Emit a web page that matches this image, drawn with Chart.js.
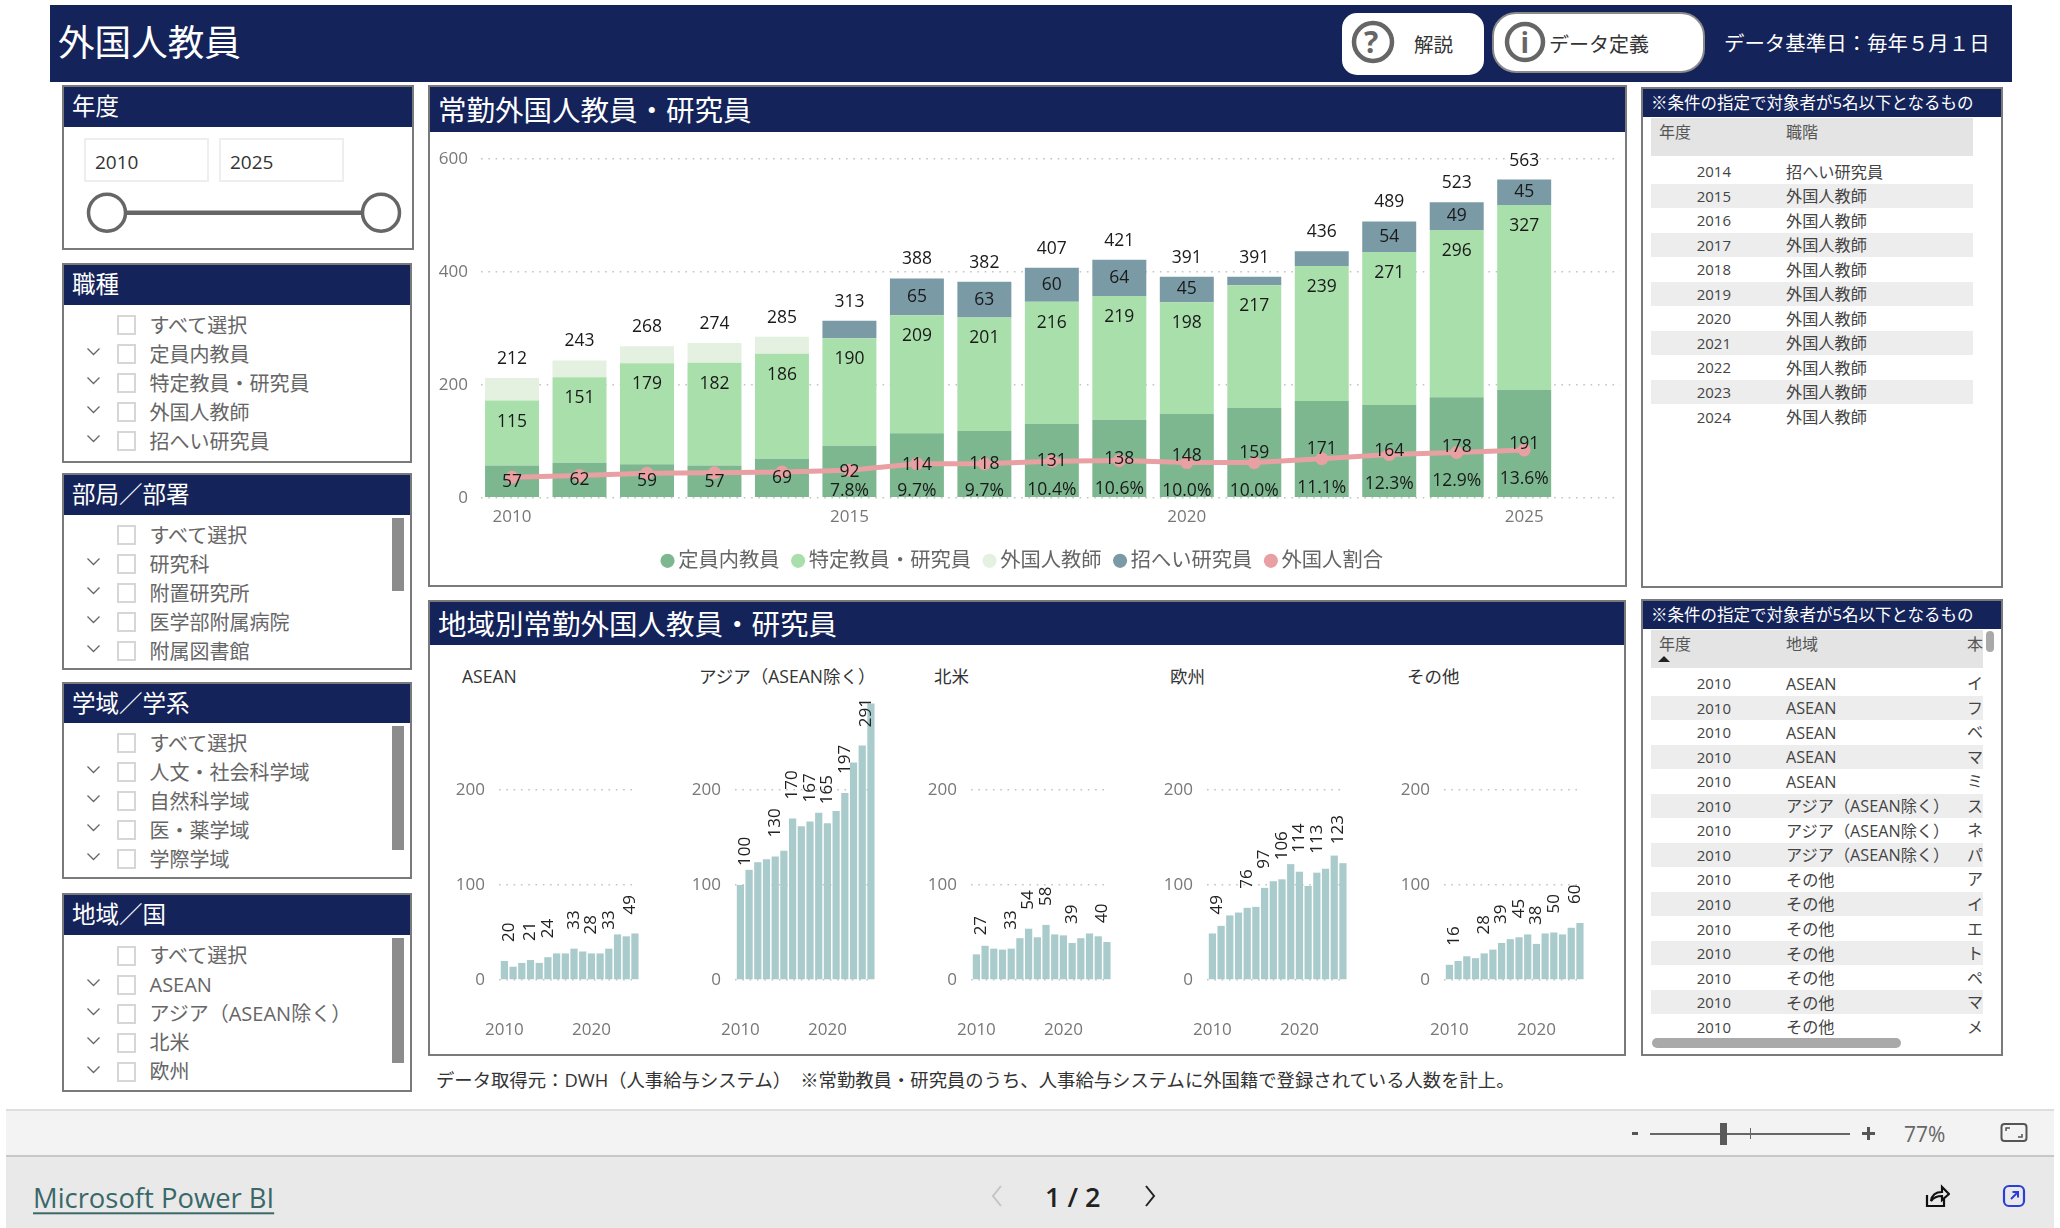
<!DOCTYPE html>
<html lang="ja">
<head>
<meta charset="utf-8">
<title>外国人教員</title>
<script src="https://cdn.jsdelivr.net/npm/chart.js@4/dist/chart.umd.js"></script>
<style>
html,body{margin:0;padding:0;background:#fff;width:2060px;height:1228px;overflow:hidden;font-family:'Open Sans','Noto Sans CJK JP',sans-serif}
#root{position:relative;width:2060px;height:1228px;overflow:hidden}
.a{position:absolute;box-sizing:border-box}
.t{position:absolute;white-space:nowrap;line-height:1;transform:translateY(-50%)}
canvas{position:absolute}
</style>
</head>
<body>
<div id="root"></div>
<script>
// ---- data ----
const years = [2010,2011,2012,2013,2014,2015,2016,2017,2018,2019,2020,2021,2022,2023,2024,2025];
const regularStaff = [57,62,59,57,69,92,114,118,131,138,148,159,171,164,178,191];
const specialStaff = [115,151,179,182,186,190,209,201,216,219,198,217,239,271,296,327];
const foreignTeachers = [40,30,30,35,30,0,0,0,0,0,0,0,0,0,0,0];
const invitedResearchers = [0,0,0,0,0,31,65,63,60,64,45,15,26,54,49,45];
const invitedLabels = [null,null,null,null,null,null,65,63,60,64,45,null,null,54,49,45];
const totals = [212,243,268,274,285,313,388,382,407,421,391,391,436,489,523,563];
const foreignRatio = [5.8,6.3,7.0,7.1,7.3,7.8,9.7,9.7,10.4,10.6,10.0,10.0,11.1,12.3,12.9,13.6];
const ratioLabels = [null,null,null,null,null,'7.8%','9.7%','9.7%','10.4%','10.6%','10.0%','10.0%','11.1%','12.3%','12.9%','13.6%'];
const seriesNames = ['定員内教員','特定教員・研究員','外国人教師','招へい研究員','外国人割合'];

const regionNames = ['ASEAN','アジア（ASEAN除く）','北米','欧州','その他'];
const regionTicks = [0,100,200];
const aseanValues = [20,14,18,21,18,24,28,28,33,30,28,28,33,48,46,49];
const asiaValues = [100,116,124,127,130,136,170,162,167,176,165,178,197,229,247,291];
const northAmericaValues = [27,36,33,32,33,44,54,45,58,48,47,39,44,49,46,40];
const europeValues = [49,57,68,71,76,77,97,104,106,122,114,99,113,117,131,123];
const otherValues = [16,20,25,23,28,32,39,43,45,48,38,49,50,48,55,60];
const aseanLabelled = [0,3,5,8,10,12,15];
const asiaLabelled = [0,4,6,8,10,12,15];
const northAmericaLabelled = [0,4,6,8,11,15];
const europeLabelled = [0,4,6,8,10,12,15];
const otherLabelled = [0,4,6,8,10,12,15];

const slicerJob = ['すべて選択','定員内教員','特定教員・研究員','外国人教師','招へい研究員'];
const slicerDept = ['すべて選択','研究科','附置研究所','医学部附属病院','附属図書館'];
const slicerField = ['すべて選択','人文・社会科学域','自然科学域','医・薬学域','学際学域'];
const slicerRegion = ['すべて選択','ASEAN','アジア（ASEAN除く）','北米','欧州'];

const table1Years = ['2014','2015','2016','2017','2018','2019','2020','2021','2022','2023','2024'];
const table1Jobs = ['招へい研究員','外国人教師','外国人教師','外国人教師','外国人教師','外国人教師','外国人教師','外国人教師','外国人教師','外国人教師','外国人教師'];
const table2Years = ['2010','2010','2010','2010','2010','2010','2010','2010','2010','2010','2010','2010','2010','2010','2010'];
const table2Regions = ['ASEAN','ASEAN','ASEAN','ASEAN','ASEAN','アジア（ASEAN除く）','アジア（ASEAN除く）','アジア（ASEAN除く）','その他','その他','その他','その他','その他','その他','その他'];
const table2Third = ['イ','フ','ベ','マ','ミ','ス','ネ','パ','ア','イ','エ','ト','ペ','マ','メ'];

// ---- colours ----
const NAVY='#14235a', BORDER='#7a7a7a', GREY='#666666';
const C_REG='#7cb78f', C_SPEC='#a9dfab', C_TEACH='#e4f1e1', C_INV='#7a9aa5', C_RATIO='#e9a0a3', C_REGION='#a9cbcb';
const FONT="'Open Sans','Noto Sans CJK JP',sans-serif";

// ---- DOM helpers ----
const root=document.getElementById('root');
function rect(x0,y0,x1,y1,css){const d=document.createElement('div');d.className='a';d.style.cssText=`left:${x0}px;top:${y0}px;width:${x1-x0}px;height:${y1-y0}px;${css||''}`;root.appendChild(d);return d;}
function text(x,y,s,size,color,css,parent){const d=document.createElement('div');d.className='t';d.textContent=s;d.style.cssText=`left:${x}px;top:${y}px;font-size:${size}px;color:${color};${css||''}`;(parent||root).appendChild(d);return d;}
function textR(xr,y,s,size,color,css){const d=document.createElement('div');d.className='t';d.textContent=s;d.style.cssText=`right:${2060-xr}px;top:${y}px;font-size:${size}px;color:${color};${css||''}`;root.appendChild(d);return d;}
function svg(x,y,w,h,inner){const d=document.createElement('div');d.className='a';d.style.cssText=`left:${x}px;top:${y}px;width:${w}px;height:${h}px`;d.innerHTML=`<svg width="${w}" height="${h}" viewBox="0 0 ${w} ${h}" style="display:block">${inner}</svg>`;root.appendChild(d);return d;}
function panel(x0,y0,x1,y1,hb,title,size,tx){
  rect(x0,y0,x1,y1,`border:2px solid ${BORDER};background:#fff`);
  rect(x0+2,y0+2,x1-2,hb,`background:${NAVY}`);
  text(tx,(y0+hb)/2+1,title,size,'#fff');
}

// ---- page header ----
rect(50,5,2012,82,`background:${NAVY}`);
text(58,42,'外国人教員',36.6,'#fff');
rect(1342,13,1484,75,'background:#fff;border-radius:15px');
rect(1492,12,1705,73,'background:#fff;border-radius:24px;border:2px solid #8a8a8a');
svg(1351,20,44,44,`<circle cx="22" cy="22" r="19" fill="none" stroke="#666" stroke-width="4.5"/>`);
text(1364,42,'?',30,'#666','font-weight:700');
svg(1504,21,42,42,`<circle cx="21" cy="21" r="18" fill="none" stroke="#666" stroke-width="4.5"/>`);
text(1520.5,42,'i',28,'#666','font-weight:700');
text(1414,45,'解説',19.5,'#333');
text(1549,45,'データ定義',20,'#333');
text(1724,43,'データ基準日：毎年５月１日',20.45,'#fff');

// ---- slicers ----
panel(62,85,414,250,127,'年度',23.5,72);
rect(84,138,209,182,'border:2px solid #eee');
rect(219,138,344,182,'border:2px solid #eee');
text(95,162,'2010',19,'#333');
text(230,162,'2025',19,'#333');
svg(85,190,320,46,`<line x1="22" y1="22.7" x2="296" y2="22.7" stroke="#666" stroke-width="4.5"/><circle cx="22" cy="22.7" r="18.5" fill="#fff" stroke="#666" stroke-width="3.5"/><circle cx="296" cy="22.7" r="18.5" fill="#fff" stroke="#666" stroke-width="3.5"/>`);

function slicer(y0,y1,hb,title,items,firstRow,step,sb){
  panel(62,y0,412,y1,hb,title,23.5,72);
  items.forEach((s,i)=>{
    const y=firstRow+step*i;
    rect(116.5,y-10,136,y+10,'border:2px solid #d6d6d6');
    text(149.5,y+0.5,s,20,'#666');
    if(i>0) svg(86,y-8,15,12,`<polyline points="1.5,2.5 7.5,8.5 13.5,2.5" fill="none" stroke="#666" stroke-width="1.3"/>`);
  });
  if(sb) rect(392,sb[0],404,sb[1],'background:#8c8c8c');
}
slicer(263,463,305,'職種',slicerJob,325,29,null);
slicer(473,670,515,'部局／部署',slicerDept,535,29.1,[518,591]);
slicer(682,879,723,'学域／学系',slicerField,743,29,[726,850]);
slicer(893,1092,935,'地域／国',slicerRegion,955.5,29,[938,1063]);

// ---- chart panels ----
panel(428,85,1627,587,132,'常勤外国人教員・研究員',28.5,438);
panel(428,600,1626,1056,645,'地域別常勤外国人教員・研究員',28.5,438);
text(436,1080,'データ取得元：DWH（人事給与システム）　※常勤教員・研究員のうち、人事給与システムに外国籍で登録されている人数を計上。',18.35,'#333');

// ---- right tables ----
const noteTitle='※条件の指定で対象者が5名以下となるもの';
panel(1641,87,2003,588,117,noteTitle,16.5,1651);
rect(1651,118,1973,156,'background:#e4e4e4');
text(1659,132,'年度',16,'#555');
text(1786,132,'職階',16,'#555');
table1Years.forEach((y,i)=>{
  const c=171.2+24.53*i;
  if(i%2===1) rect(1651,c-12,1973,c+12,'background:#ededed');
  textR(1731,c,y,15,'#444');
  text(1786,c+0.5,table1Jobs[i],16.2,'#444');
});
panel(1641,599,2003,1056,629,noteTitle,16.5,1651);
rect(1651,630,1983,668,'background:#e4e4e4');
text(1659,644,'年度',16,'#555');
text(1786,644,'地域',16,'#555');
text(1967,644,'本',16,'#555');
svg(1657,654,14,10,`<polygon points="1,8 13,8 7,2" fill="#222"/>`);
table2Years.forEach((y,i)=>{
  const c=683.2+24.53*i;
  if(i%2===1) rect(1651,c-12,1983,c+12,'background:#ededed');
  textR(1731,c,y,15,'#444');
  text(1786,c+0.5,table2Regions[i],16.2,'#444');
  const clip=rect(1967,c-11,1983,c+11,'overflow:hidden');
  text(0,11,table2Third[i],16,'#444','',clip);
});
rect(1986,631,1994,652,'background:#a9a9a9;border-radius:4px');
rect(1652,1038,1901,1048,'background:#a9a9a9;border-radius:5px');

// ---- bottom bars ----
rect(6,1109,2054,1156,'background:#f3f3f3;border-top:2px solid #dedede');
rect(6,1155,2054,1228,'background:#e9e9e9;border-top:2px solid #c8c8c8');
rect(1632,1132,1638,1135,'background:#555');
rect(1650,1132.5,1850,1134.5,'background:#666');
rect(1720,1123,1727,1145,'background:#5a5a5a');
rect(1749.5,1128,1751,1139,'background:#666');
rect(1862,1132,1875,1135,'background:#555');
rect(1867,1127,1870,1140,'background:#555');
text(1904,1134,'77%',21,'#666');
svg(2000,1122,28,22,`<rect x="1.5" y="2" width="25" height="17" rx="3" fill="none" stroke="#555" stroke-width="2"/><polyline points="6,9 6,6 10,6" fill="none" stroke="#555" stroke-width="1.5"/><polyline points="22,12 22,15 18,15" fill="none" stroke="#555" stroke-width="1.5"/>`);
text(33,1198,'Microsoft Power BI',27.4,'#3a6868','text-decoration:underline;text-underline-offset:4px');
text(1045,1196,'1 / 2',27,'#222','font-weight:600');
svg(990,1183,14,26,`<polyline points="11,3 3,13 11,23" fill="none" stroke="#c4c4c4" stroke-width="2"/>`);
svg(1143,1183,14,26,`<polyline points="3,3 11,13 3,23" fill="none" stroke="#222" stroke-width="2"/>`);
svg(1922,1183,28,28,`<path d="M5 12 V23 H22 V16" fill="none" stroke="#111" stroke-width="2.2"/><path d="M9 18 C10 11 15 9 20 9 V4 L27 11 L20 17 V13 C15 13 12 14 9 18Z" fill="none" stroke="#111" stroke-width="2.2"/>`);
svg(2002,1183,24,26,`<rect x="2" y="3" width="20" height="20" rx="5" fill="none" stroke="#2a3fd6" stroke-width="2.2"/><path d="M9 16 L16 9 M10.5 9 H16 V14.5" fill="none" stroke="#2a3fd6" stroke-width="2"/>`);

// ---- canvases ----
function canvas(x,y,w,h){const c=document.createElement('canvas');c.width=w;c.height=h;c.style.left=x+'px';c.style.top=y+'px';c.style.width=w+'px';c.style.height=h+'px';root.appendChild(c);return c;}
Chart.defaults.font.family=FONT;
Chart.defaults.animation=false;
Chart.defaults.devicePixelRatio=1;

const dotted={display:false,dash:[1.6,5.7]};
function fixBox(s,w,h){ if(w!==null) s.width=w; if(h!==null) s.height=h; s.paddingLeft=s.paddingRight=s.paddingTop=s.paddingBottom=0; }

// main stacked chart
const mainLabels={
  id:'mainLabels',
  afterDatasetsDraw(chart){
    const {ctx,scales:{x,y,y1}}=chart;
    ctx.save();
    ctx.font=`17.5px ${FONT}`;ctx.fillStyle='#1a1a1a';ctx.textAlign='center';ctx.textBaseline='middle';
    years.forEach((yr,i)=>{
      const cx=x.getPixelForValue(yr);
      ctx.fillText(regularStaff[i],cx,y.getPixelForValue(regularStaff[i]/2));
      ctx.fillText(specialStaff[i],cx,y.getPixelForValue(regularStaff[i]+specialStaff[i])+21);
      if(invitedLabels[i]!==null){
        const top=regularStaff[i]+specialStaff[i]+foreignTeachers[i]+invitedResearchers[i];
        ctx.fillText(invitedLabels[i],cx,y.getPixelForValue(top-invitedResearchers[i]/2));
      }
      ctx.fillText(totals[i],cx,y.getPixelForValue(totals[i])-19);
      if(ratioLabels[i]){
        const ly=Math.min(y1.getPixelForValue(foreignRatio[i])+29,y.getPixelForValue(0)-7);
        ctx.fillText(ratioLabels[i],cx,ly);
      }
    });
    ctx.restore();
  }
};
const barCommon={order:1,stack:'s',barPercentage:0.8,categoryPercentage:1};
new Chart(canvas(430,134,1201,447),{
  type:'bar',
  data:{labels:years,datasets:[
    {label:seriesNames[0],data:regularStaff,backgroundColor:C_REG,...barCommon},
    {label:seriesNames[1],data:specialStaff,backgroundColor:C_SPEC,...barCommon},
    {label:seriesNames[2],data:foreignTeachers,backgroundColor:C_TEACH,...barCommon},
    {label:seriesNames[3],data:invitedResearchers,backgroundColor:C_INV,...barCommon},
    {type:'line',label:seriesNames[4],data:foreignRatio,yAxisID:'y1',order:0,borderColor:C_RATIO,backgroundColor:C_RATIO,borderWidth:5,pointRadius:6.5,pointBackgroundColor:C_RATIO,pointBorderWidth:0,tension:0}
  ]},
  options:{
    responsive:false,
    layout:{autoPadding:false,padding:{top:24.7,right:11,left:0,bottom:0}},
    plugins:{tooltip:{enabled:false},legend:{position:'bottom',labels:{usePointStyle:true,pointStyle:'circle',boxWidth:1,boxHeight:10,padding:18,color:'#666',font:{size:20.3},sort:(a,b)=>a.datasetIndex-b.datasetIndex}}},
    scales:{
      x:{type:'linear',offset:false,min:2009.54,max:2026.42,grid:{display:false},border:{display:false},
         afterFit(s){fixBox(s,null,35);},
         ticks:{stepSize:5,includeBounds:false,maxRotation:0,autoSkip:false,padding:1.5,color:'#777',font:{size:17},callback:v=>String(v)}},
      y:{stacked:true,min:0,max:600,grid:{color:'#c4c4c4',lineWidth:1.5,drawTicks:false},border:dotted,
         afterFit(s){fixBox(s,51,null);},
         ticks:{stepSize:200,padding:13,color:'#777',font:{size:17}}},
      y1:{display:false,min:0,max:96.6}
    }
  },
  plugins:[mainLabels]
});

// small multiples
const regionValues=[aseanValues,asiaValues,northAmericaValues,europeValues,otherValues];
const regionLabelled=[aseanLabelled,asiaLabelled,northAmericaLabelled,europeLabelled,otherLabelled];
const regionTitleX=[462,699,934,1170,1407];
regionNames.forEach((name,r)=>{
  text(regionTitleX[r],677,name,17.5,'#333');
  const values=regionValues[r], labelled=regionLabelled[r];
  const areaL=498.5+236.3*r, cl=areaL-60;
  const rotLabels={
    id:'rotLabels'+r,
    afterDatasetsDraw(chart){
      const {ctx,chartArea,scales:{x,y}}=chart;
      ctx.save();
      ctx.font=`17px ${FONT}`;ctx.fillStyle='#222';ctx.textAlign='center';ctx.textBaseline='middle';
      labelled.forEach(i=>{
        const s=String(values[i]), len=ctx.measureText(s).width;
        const shift=i===0?5:(i===years.length-1?-5:0);
        const cy=Math.max(y.getPixelForValue(values[i])-19-len/2,chartArea.top+2+len/2);
        ctx.save();
        ctx.translate(x.getPixelForValue(years[i])+shift,cy);
        ctx.rotate(-Math.PI/2);
        ctx.fillText(s,0,0);
        ctx.restore();
      });
      ctx.restore();
    }
  };
  new Chart(canvas(cl,690,215,360),{
    type:'bar',
    data:{labels:years,datasets:[{label:name,data:values,backgroundColor:C_REGION,barPercentage:0.83,categoryPercentage:1,clip:false}]},
    options:{
      responsive:false,
      layout:{autoPadding:false,padding:{top:6,right:21.5,left:0,bottom:0}},
      plugins:{tooltip:{enabled:false},legend:{display:false}},
      scales:{
        x:{type:'linear',offset:false,min:2009.38,max:2024.72,grid:{display:false},border:{display:false},
           afterFit(s){fixBox(s,null,70);},
           ticks:{stepSize:10,includeBounds:false,maxRotation:0,autoSkip:false,padding:32,color:'#777',font:{size:17},callback:v=>String(v)}},
        y:{min:0,max:299,grid:{color:'#c4c4c4',lineWidth:1.5,drawTicks:false},border:dotted,
           afterFit(s){fixBox(s,60,null);},
           afterBuildTicks(s){s.ticks=regionTicks.map(v=>({value:v}));},
           ticks:{padding:14,color:'#777',font:{size:17}}}
      }
    },
    plugins:[rotLabels]
  });
});
</script>
</body>
</html>
